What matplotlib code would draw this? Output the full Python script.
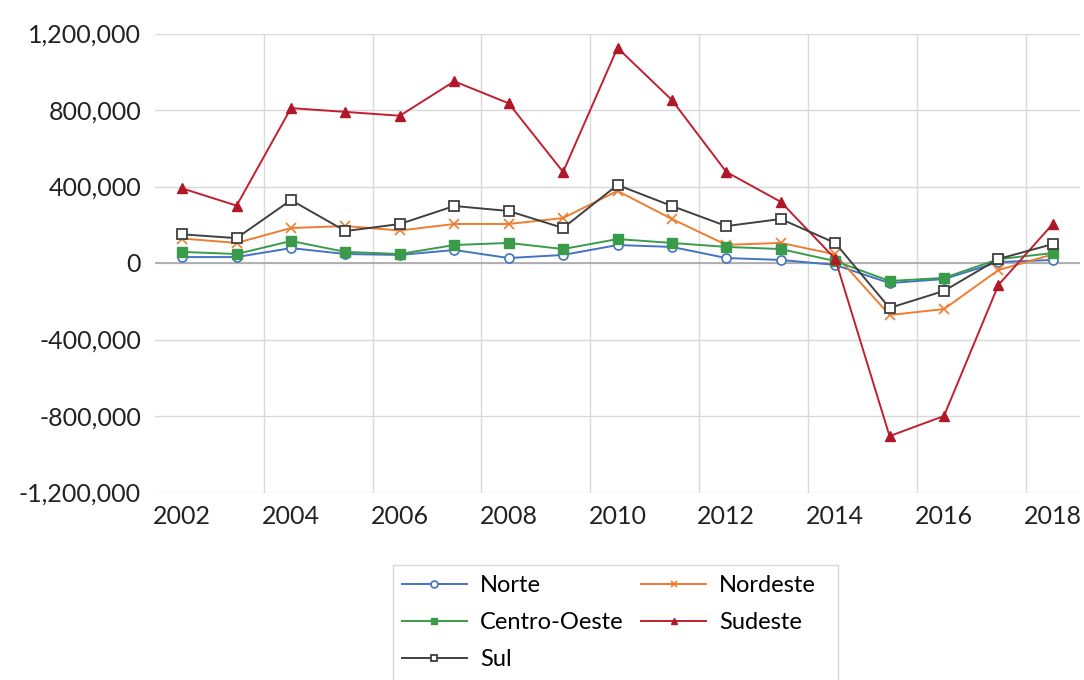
import numpy as np
import matplotlib
matplotlib.use("Agg")
import matplotlib.pyplot as plt
from matplotlib.ticker import FuncFormatter
from matplotlib.patches import Rectangle

plt.rcParams['font.family'] = ['Lato', 'DejaVu Sans']

years = list(range(2002, 2019))

norte = [31000, 31000, 78000, 47000, 42000, 68000, 26000, 42000, 94000,
         84000, 26000, 16000, -10000, -105000, -84000, 5000, 16000]
nordeste = [128000, 105000, 183000, 193000, 170000, 204000, 204000, 235000, 377000,
            230000, 95000, 105000, 45000, -272000, -241000, -37000, 45000]
centro_oeste = [58000, 47000, 115000, 58000, 47000, 94000, 105000, 73000, 125000,
                105000, 84000, 73000, 10000, -94000, -78000, 20000, 52000]
sudeste = [390000, 300000, 810000, 790000, 770000, 950000, 835000, 476000, 1125000,
           852000, 476000, 320000, 22000, -905000, -800000, -115000, 204000]
sul = [150000, 130000, 329000, 167000, 204000, 298000, 272000, 183000, 408000,
       298000, 193000, 230000, 105000, -235000, -146000, 21000, 99000]

W, H = 1084, 680
fig = plt.figure(figsize=(W / 100, H / 100), dpi=100)
ax = fig.add_axes([155 / W, 1 - 492.5 / H, 925 / W, 459 / H])

h_norte, = ax.plot(years, norte, color='#4472C4', lw=1.4, marker='o', ms=6.5,
                   mfc='white', mec='#4472C4', mew=1.2, label='Norte')
h_nord, = ax.plot(years, nordeste, color='#ED7D31', lw=1.4, marker='x', ms=6.5,
                  mec='#ED7D31', mew=1.2, label='Nordeste')
h_co, = ax.plot(years, centro_oeste, color='#3A9B4B', lw=1.4, marker='s', ms=7,
                mfc='#3A9B4B', mec='#3A9B4B', label='Centro-Oeste')
h_sud, = ax.plot(years, sudeste, color='#C0202F', lw=1.4, marker='^', ms=7.5,
                 mfc='#B0182A', mec='#B0182A', label='Sudeste')
h_sul, = ax.plot(years, sul, color='#404040', lw=1.4, marker='s', ms=7.5,
                 mfc='white', mec='#404040', mew=1.3, label='Sul')

ax.set_xlim(2001.5, 2018.5)
ax.set_ylim(-1200000, 1200000)

ax.set_xticks(range(2002, 2019, 2))
ax.set_xticks(np.arange(2003.5, 2018, 2), minor=True)
ax.set_yticks(range(-1200000, 1200001, 400000))
ax.yaxis.set_major_formatter(FuncFormatter(lambda v, p: f'{int(v):,}'))

ax.grid(True, axis='x', which='minor', color='#d9d9d9', lw=1)
ax.grid(True, axis='y', which='major', color='#d9d9d9', lw=1)
ax.axhline(0, color='#a6a6a6', lw=1.2, zorder=1)
ax.set_axisbelow(True)

ax.tick_params(axis='both', which='both', length=0, labelsize=18, colors='#222222')
ax.tick_params(axis='x', pad=9)
ax.tick_params(axis='y', pad=10)
for s in ax.spines.values():
    s.set_visible(False)

# legend box runs off the bottom edge
fig.patches.append(Rectangle((393 / W, -0.05), (838 - 393) / W, 0.05 + (680 - 565) / H,
                             transform=fig.transFigure, fill=False,
                             edgecolor='#d9d9d9', lw=1))

# row-wise order: Norte, Nordeste / Centro-Oeste, Sudeste / Sul
handles = [h_norte, h_co, h_sul, h_nord, h_sud]
leg = fig.legend(handles=handles, labels=[h.get_label() for h in handles],
                 loc='upper left', bbox_to_anchor=(402 / W, 1 - 575 / H),
                 ncol=2, fontsize=17, frameon=False,
                 handlelength=2.75, handletextpad=0.55, columnspacing=0.75,
                 labelspacing=0.68, borderpad=0, borderaxespad=0)
for lh in leg.legend_handles:
    lh.set_markersize(5)

fig.savefig('out.png', dpi=100)
